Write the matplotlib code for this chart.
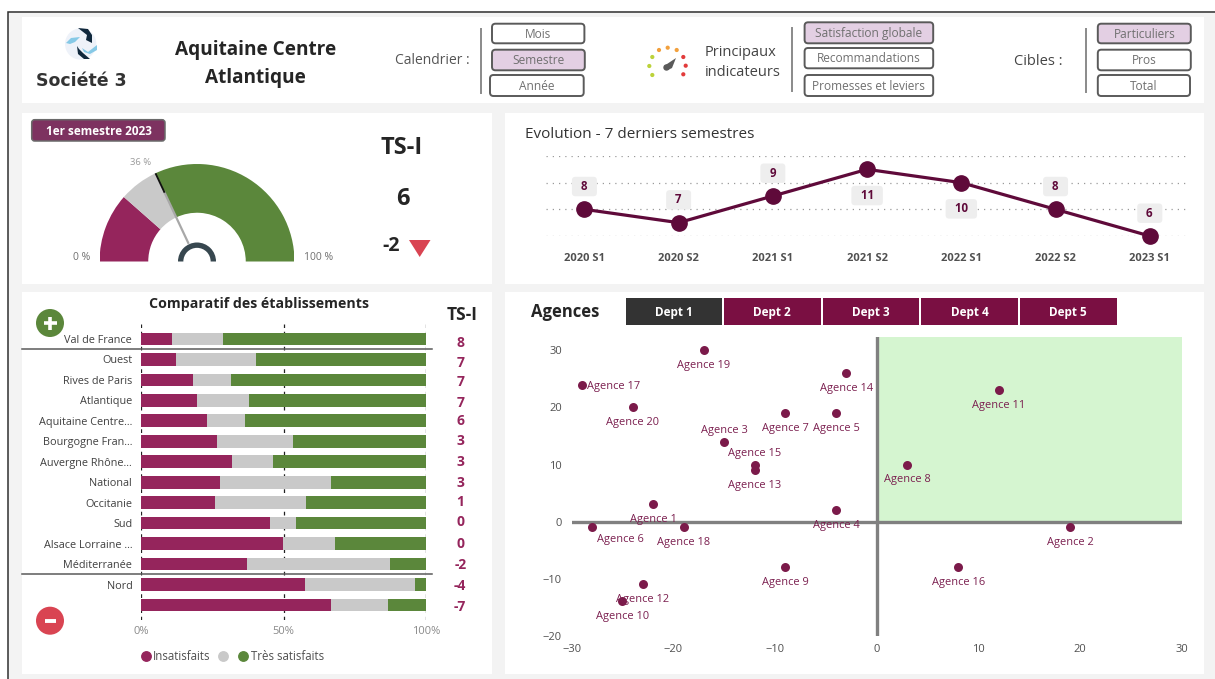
import math
import matplotlib
matplotlib.use("Agg")
import matplotlib.pyplot as plt
from matplotlib.patches import FancyBboxPatch, Rectangle, Wedge, Polygon, Circle
from matplotlib.lines import Line2D

plt.rcParams['font.family'] = ['Open Sans', 'DejaVu Sans']

# ---------- data ----------
gauge_shares = [23, 13, 64]
periods = ['2020 S1', '2020 S2', '2021 S1', '2021 S2', '2022 S1', '2022 S2', '2023 S1']
evolution = [8, 7, 9, 11, 10, 8, 6]
regions = ['Val de France', 'Ouest', 'Rives de Paris', 'Atlantique', 'Aquitaine Centre...',
           'Bourgogne Fran...', 'Auvergne Rhône...', 'National', 'Occitanie', 'Sud',
           'Alsace Lorraine ...', 'Méditerranée', 'Nord', '']
insatisfaits = [11.0, 12.4, 18.1, 19.5, 23.2, 26.5, 31.9, 27.6, 26.1, 45.3, 49.8, 37.3, 57.5, 66.5]
neutres = [17.9, 28.0, 13.4, 18.3, 13.3, 26.7, 14.4, 38.9, 31.7, 9.1, 18.2, 50.1, 38.5, 20.0]
tres_satisfaits = [71.1, 59.6, 68.5, 62.2, 63.5, 46.8, 53.7, 33.5, 42.2, 45.6, 32.0, 12.6, 4.0, 13.5]
tsi = [8, 7, 7, 7, 6, 3, 3, 3, 1, 0, 0, -2, -4, -7]
agences = ['Agence %d' % i for i in range(1, 21)]
agence_x = [-22, 19, -15, -4, -4, -28, -9, 3, -9, -25, 12, -23, -12, -3, -12, 8, -29, -19, -17, -24]
agence_y = [3, -1, 14, 2, 19, -1, 19, 10, -8, -14, 23, -11, 9, 26, 10, -8, 24, -1, 30, 20]
depts = ['Dept 1', 'Dept 2', 'Dept 3', 'Dept 4', 'Dept 5']

# ---------- style ----------
W, H = 1215, 679
MAROON = '#95255c'
DEEP = '#5f0a3a'
GREEN = '#5b873b'
GREY = '#c9c9c9'
RED = '#d94452'
LILAC = '#e3cfe3'
TXT = '#555555'
DARK = '#252525'

fig = plt.figure(figsize=(W / 100, H / 100), dpi=100, facecolor='white')


def px_axes(x0, y0, x1, y1, z=1):
    a = fig.add_axes([x0 / W, 1 - y1 / H, (x1 - x0) / W, (y1 - y0) / H], zorder=z)
    a.patch.set_alpha(0)
    return a


def overlay(z):
    a = fig.add_axes([0, 0, 1, 1], zorder=z)
    a.set_xlim(0, W)
    a.set_ylim(H, 0)
    a.axis('off')
    a.patch.set_alpha(0)
    return a


bg = overlay(0)
top = overlay(5)


def T(x, y, s, size=9, color=TXT, weight='normal', ha='center', a=bg, **k):
    return a.text(x, y + 1, s, fontsize=size, color=color, fontweight=weight, ha=ha, va='center', **k)


# page
bg.add_patch(Rectangle((8, 11), W - 8, H - 11, fc='#f3f3f3', ec='none'))
bg.plot([8, 8, W], [H, 11.5, 11.5], color='#303030', lw=1.1, solid_joinstyle='miter')
for (x0, y0, x1, y1) in [(22, 17, 1204, 102.5), (22, 113, 492, 284), (505, 113, 1204, 284),
                         (22, 292, 492, 674), (505, 292, 1204, 674)]:
    bg.add_patch(Rectangle((x0, y0), x1 - x0, y1 - y0, fc='white', ec='none'))


# header
def button(x0, y0, x1, y1, s, on=False):
    bg.add_patch(FancyBboxPatch((x0, y0), x1 - x0, y1 - y0, boxstyle='round,pad=0,rounding_size=3.5',
                                fc=LILAC if on else 'white', ec='#5a5a5a', lw=1.4))
    T((x0 + x1) / 2, (y0 + y1) / 2 - 0.3, s, size=8.6, color='#707070')


button(492, 23.7, 584.4, 43.3, 'Mois')
button(492, 49.7, 584.8, 70.3, 'Semestre', True)
button(490, 75, 583.7, 96, 'Année')
button(804.6, 22.3, 933.2, 43.3, 'Satisfaction globale', True)
button(804.6, 48, 933.2, 68.3, 'Recommandations')
button(804.6, 75, 933.2, 96, 'Promesses et leviers')
button(1097.8, 23.7, 1190.8, 43.3, 'Particuliers', True)
button(1097.8, 49.7, 1190.8, 70.3, 'Pros')
button(1097.8, 75, 1190, 96, 'Total')
for sx, y0, y1 in [(480.7, 29, 93), (791.8, 28, 91), (1086.4, 29, 92)]:
    bg.plot([sx, sx], [y0, y1], color='#8a8a8a', lw=1.4)

T(432.5, 60, 'Calendrier :', size=10)
T(741, 52, 'Principaux', size=10.5, color='#444444')
T(742.5, 72, 'indicateurs', size=10.5, color='#444444')
T(1038, 60.5, 'Cibles :', size=10.5, color='#444444')
T(255.7, 49.5, 'Aquitaine Centre', size=13.7, color=DARK, weight='bold')
T(255.7, 76.7, 'Atlantique', size=13.7, color=DARK, weight='bold')
T(81.7, 80, 'Société 3', size=12.5, color='#333333', weight='bold', family='DejaVu Sans')

# logo
bg.add_patch(Circle((80.7, 44), 15.7, fc='#eef2f9', ec='none'))
for pts, c in [([(78, 28), (88, 29), (92, 35), (92, 43), (86, 40), (87, 35)], '#10283c'),
               ([(77, 46), (78, 54), (84, 59), (90, 59), (83, 53), (79, 49)], '#10283c'),
               ([(66, 43), (71, 38), (80, 37), (75, 42), (70, 44)], '#86c9e6'),
               ([(82, 48), (88, 52), (97, 45), (97, 50), (90, 54), (84, 52)], '#86c9e6')]:
    bg.add_patch(Polygon(pts, closed=True, fc=c, ec='none'))

# small dial icon
for (dx, dy, c) in [(659, 50, '#f2a03d'), (667.7, 47.7, '#f2a03d'), (676.7, 50, '#f2a03d'),
                    (652.3, 57, '#bcd23a'), (649.3, 66, '#bcd23a'), (652.3, 75, '#bcd23a'),
                    (683.3, 57, '#e23b3b'), (685.7, 65.7, '#e23b3b'), (683.3, 74.3, '#e23b3b')]:
    bg.add_patch(Circle((dx, dy), 2.1, fc=c, ec='none'))
bg.add_patch(Polygon([(664, 66), (668, 70), (672, 68), (676, 58)], closed=True, fc='#5a5a5a', ec='none'))
bg.add_patch(Circle((666.5, 67.5), 3.2, fc='#5a5a5a', ec='none'))

# gauge panel
bg.add_patch(FancyBboxPatch((31.7, 119.7), 133.3, 21.3, boxstyle='round,pad=0,rounding_size=3',
                            fc='#7d3260', ec='#6a6a6a', lw=1.1))
T(98.5, 130.5, '1er semestre 2023', size=8.5, color='white', weight='bold')
T(402, 146.7, 'TS-I', size=17, color=DARK, weight='bold')
T(403, 198, '6', size=17, color=DARK, weight='bold')
T(391, 245, '-2', size=14, color=DARK, weight='bold')
bg.add_patch(Polygon([(409, 240), (430.5, 240), (419.7, 257)], closed=True, fc=RED, ec='none'))

ga = px_axes(99.5, 164, 294.5, 261.5)
ga.set_xlim(-1, 1)
ga.set_ylim(0, 1)
ga.axis('off')
cum = 0
for share, col in zip(gauge_shares, [MAROON, GREY, GREEN]):
    ga.add_patch(Wedge((0, 0), 1, 180 - (cum + share) * 1.8, 180 - cum * 1.8, width=0.5, fc=col, ec='none'))
    cum += share
needle = sum(gauge_shares[:2])
ga.add_patch(Wedge((0, 0), 0.195, 0, 180, width=0.055, fc='#37474f', ec='none'))
ang = math.radians(180 - needle * 1.8)
ga.plot([0.2 * math.cos(ang), 0.8 * math.cos(ang)], [0.2 * math.sin(ang), 0.8 * math.sin(ang)],
        color='#a8a8a8', lw=1.6, solid_capstyle='butt')
ga.plot([0.78 * math.cos(ang), 1.0 * math.cos(ang)], [0.78 * math.sin(ang), 1.0 * math.sin(ang)],
        color='#111111', lw=1.3, solid_capstyle='butt', clip_on=False)
T(141, 161.7, '%d %%' % needle, size=6.8, color='#9a9a9a')
T(82, 257, '0 %', size=7.5, color='#707070')
T(319, 257, '100 %', size=7.5, color='#707070')

# evolution line
T(525, 133.3, 'Evolution - 7 derniers semestres', size=11, color='#333333', ha='left')
la = px_axes(546, 156, 1187.6, 236)
idx = list(range(len(periods)))
la.set_xlim(-(584.4 - 546) / 94.2, 6 + (1187.6 - 1149.8) / 94.2)
la.set_ylim(6, 12)
for s in la.spines.values():
    s.set_visible(False)
la.set_yticks([6, 8, 10, 12])
la.set_yticklabels([])
la.grid(axis='y', color='#9a9a9a', lw=0.9, ls=(0, (1, 4)))
la.set_axisbelow(True)
la.set_xticks(idx)
la.set_xticklabels(periods, fontsize=8, color='#505050', fontweight='bold')
la.tick_params(length=0, axis='both', pad=12)
la.plot(idx, evolution, color=DEEP, lw=2.3, marker='o', ms=11, clip_on=False, zorder=3)
for i, v in enumerate(evolution):
    off = 25.7 if v in (11, 10) else -23.3
    la.annotate('\u00a0\u00a0%d\u00a0\u00a0' % v, (i, v), xytext=(0, -(off + 0.5) * 0.72),
                textcoords='offset points', ha='center', va='center',
                fontsize=8.3, fontweight='bold', color=DEEP, zorder=4,
                bbox=dict(boxstyle='round,pad=0.28,rounding_size=0.3', fc='#eeeeee', ec='none'))

# stacked bars
T(259, 303, 'Comparatif des établissements', size=10.2, color=DARK, weight='bold')
T(462, 314, 'TS-I', size=12.5, color=DARK, weight='bold')
ba = px_axes(141, 324, 426, 620)
rows = list(range(len(regions)))
ba.set_xlim(0, 100)
ba.set_ylim((620 - 339) / 20.46, (324 - 339) / 20.46)
for s in ba.spines.values():
    s.set_visible(False)
ba.set_axisbelow(True)
ba.grid(axis='x', color='#222222', lw=0.9, ls=(0, (3, 3)))
left = [0] * len(rows)
handles = []
for vals, col in zip([insatisfaits, neutres, tres_satisfaits], [MAROON, GREY, GREEN]):
    ba.barh(rows, vals, left=left, height=0.62, color=col, edgecolor='none')
    left = [a + b for a, b in zip(left, vals)]
    handles.append(Line2D([], [], ls='', marker='o', ms=6.8, color=col))
ba.set_yticks(rows)
ba.set_yticklabels(regions, fontsize=7.8, color='#404040')
ba.set_xticks([0, 50, 100])
ba.set_xticklabels(['0%', '50%', '100%'], fontsize=8, color='#8a8a8a')
ba.tick_params(length=0, axis='y', pad=6.3)
ba.tick_params(length=0, axis='x', pad=4)
ba.legend(handles, ['Insatisfaits', '', 'Très satisfaits'], loc='center left', ncol=3, frameon=False,
          bbox_to_anchor=(-0.003, -0.125), fontsize=8.3, labelcolor='#505050', handletextpad=0.13,
          columnspacing=0.6, handlelength=1.0, borderpad=0, borderaxespad=0)
tsi_y = [343.3, 362.7, 382.3, 403.3, 421.3, 440.7, 461.7, 482.7, 502.3, 521.7, 544.3, 564.7, 585.7, 606.7]
for y, v in zip(tsi_y, tsi):
    T(460.3, y - 1, str(v), size=10, color=MAROON, weight='bold', a=top)
for y in (348.7, 574.3):
    top.plot([22, 432], [y, y], color='#5a5a5a', lw=1.1)

top.add_patch(Circle((50, 323), 14, fc=GREEN, ec='none'))
top.plot([43.5, 56.5], [323, 323], color='white', lw=2.6, solid_capstyle='butt')
top.plot([50, 50], [316.5, 329.5], color='white', lw=2.6, solid_capstyle='butt')
top.add_patch(Circle((50, 620.7), 14, fc=RED, ec='none'))
top.plot([44.5, 55.5], [620.7, 620.7], color='white', lw=2.8, solid_capstyle='butt')

# agencies scatter
T(531, 310.7, 'Agences', size=12, color=DARK, weight='bold', ha='left')
for s, (x0, x1), c in zip(depts, [(625.5, 722.4), (723.7, 821), (823, 919.4), (921, 1018), (1019.5, 1117)],
                          ['#333333'] + ['#7a0f42'] * 4):
    bg.add_patch(Rectangle((x0, 297.7), x1 - x0, 27.6, fc=c, ec='none'))
    T((x0 + x1) / 2, 311.5, s, size=8.5, color='white', weight='bold')

sa = px_axes(571.6, 337.3, 1182, 635.7)
ytop = 32.3
sa.set_xlim(-30, 30)
sa.set_ylim(-20, ytop)
for s in sa.spines.values():
    s.set_visible(False)
sa.fill_between([0, 30], 0, ytop, color='#d5f5d0', lw=0, zorder=0)
sa.axhline(0, color='#808080', lw=2.4, zorder=1)
sa.axvline(0, color='#808080', lw=2.4, zorder=1)
sa.scatter(agence_x, agence_y, s=42, color='#7b1a4a', zorder=3, clip_on=False, linewidths=0)
sa.set_xticks([-30, -20, -10, 0, 10, 20, 30])
sa.set_yticks([-20, -10, 0, 10, 20, 30])
sa.tick_params(length=0, labelsize=8, labelcolor='#505050')
sa.tick_params(axis='y', pad=7)
sa.tick_params(axis='x', pad=6)
special = {'Agence 3': (0, -11.3), 'Agence 15': (0, -11.3), 'Agence 6': (28.5, 12.3), 'Agence 17': (32, 2)}
for name, x, y in zip(agences, agence_x, agence_y):
    dx, dy = special.get(name, (0, 15.3))
    sa.annotate(name, (x, y), xytext=(dx * 0.72, -dy * 0.72), textcoords='offset points', ha='center', va='center',
                fontsize=7.9, color='#7b1f4f', zorder=4, annotation_clip=False)

fig.savefig('out.png', dpi=100, facecolor='white')
